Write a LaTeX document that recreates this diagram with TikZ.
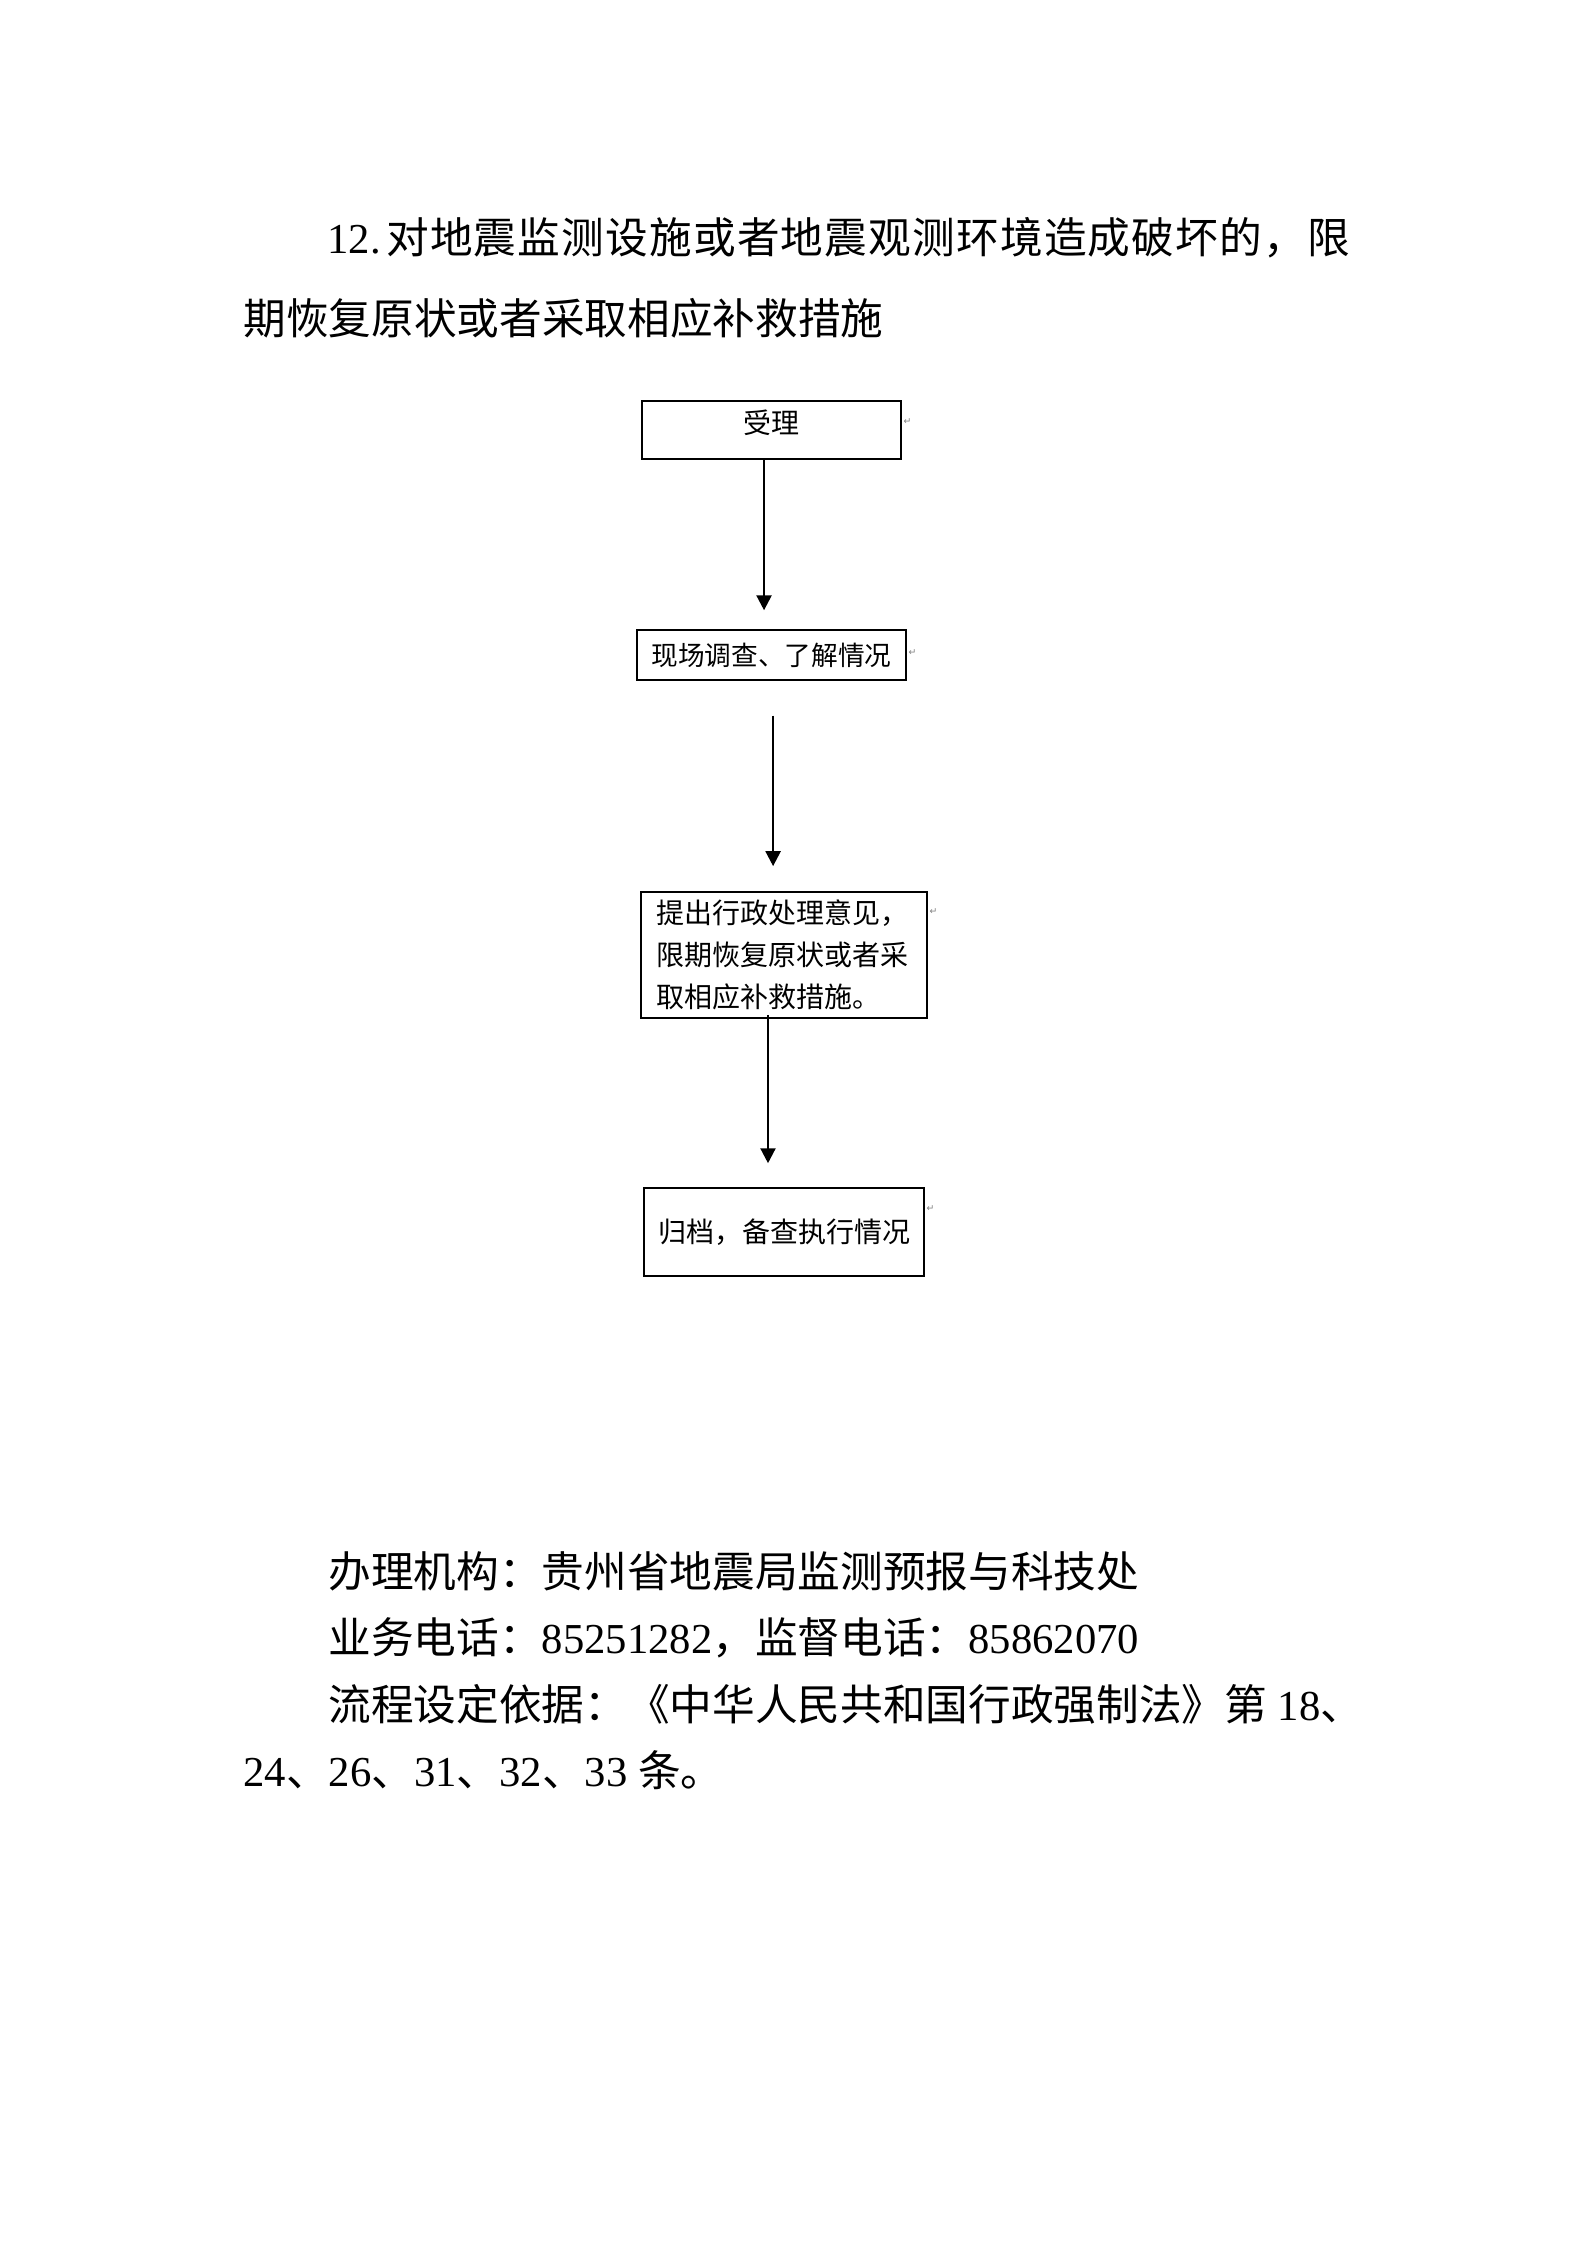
\documentclass[tikz,border=0pt]{standalone}
\usepackage{fontspec}
\setmainfont{Noto Sans CJK SC}
\newfontfamily\cjkwide[LetterSpace=2.8]{Noto Sans CJK SC}
\newfontfamily\lat{Liberation Serif}
\newfontfamily\sym{DejaVu Sans}
\usetikzlibrary{arrows.meta}

\begin{document}
\begin{tikzpicture}[x=0.375pt, y=-0.375pt,
  box/.style = {draw, line width=0.6pt, inner sep=0pt, font=\fontsize{10.5pt}{15.75pt}\selectfont},
  flow/.style = {-{Triangle[length=5.6pt, width=5.6pt]}, line width=0.9pt},
  txtline/.style = {anchor=base west, inner sep=0pt, font=\fontsize{16pt}{16pt}\selectfont},
  retmark/.style = {anchor=west, inner sep=0pt, text=gray, font=\sym\fontsize{3.5pt}{3.5pt}\selectfont}]
\useasboundingbox[fill=white] (0,0) rectangle (1587,2245);

\node[txtline] (t1) at (327,253) {{\lat 12.}\hspace{2pt}{\cjkwide 对地震监测设施或者地震观测环境造成破坏的，限}};
\node[txtline] (t2) at (243,334) {期恢复原状或者采取相应补救措施};

\node[box, minimum width=97.1pt, text height=12.2pt, text depth=9.5pt] (b1) at (771.5,430) {受理};
\node[box, minimum width=100.9pt, minimum height=18.75pt, font=\fontsize{10pt}{12pt}\selectfont] (b2) at (771.5,655) {现场调查、了解情况};
\node[box, minimum width=107.25pt, minimum height=47.25pt, text width=96pt, align=left] (b3) at (784,955) {提出行政处理意见，\\限期恢复原状或者采\\取相应补救措施。};
\node[box, minimum width=105pt, minimum height=33pt] (b4) at (784,1232) {归档，备查执行情况};

\node[retmark] (m1) at (903,422) {↵};
\node[retmark] (m2) at (908,653) {↵};
\node[retmark] (m3) at (929,912) {↵};
\node[retmark] (m4) at (926,1209) {↵};

\draw[flow, shorten >=7.1pt] ([xshift=-2.8pt]b1.south) -- ([xshift=-2.8pt]b1.south |- b2.north);
\draw[flow, shorten <=13.1pt, shorten >=9.4pt] ([xshift=0.6pt]b2.south) -- ([xshift=0.6pt]b2.south |- b3.north);
\draw[flow, shorten <=-1.5pt, shorten >=9pt] ([xshift=-6pt]b3.south) -- ([xshift=-6pt]b3.south |- b4.north);

\node[txtline] (o1) at (328,1587) {办理机构：贵州省地震局监测预报与科技处};
\node[txtline] (o2) at (328,1653) {业务电话：{\lat 85251282}，监督电话：{\lat 85862070}};
\node[txtline] (o3) at (328,1720) {流程设定依据：《中华人民共和国行政强制法》第{\lat\ 18}、};
\node[txtline] (o4) at (243,1786) {{\lat 24}、{\lat 26}、{\lat 31}、{\lat 32}、{\lat 33\ }条。};
\end{tikzpicture}
\end{document}
